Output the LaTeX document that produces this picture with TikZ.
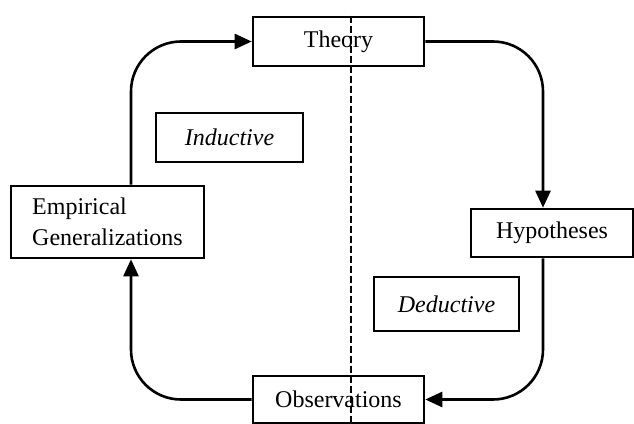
\documentclass[tikz,border=0pt]{standalone}
\usepackage{fontspec}
\setmainfont{Liberation Serif}
\usetikzlibrary{arrows.meta, positioning}

\begin{document}
\begin{tikzpicture}[
x=1pt, y=-1pt,
font=\fontsize{24}{31}\selectfont,
stage/.style={rectangle, draw, line width=2.6pt, minimum height=49pt, inner sep=0pt, align=center},
mode/.style={rectangle, draw, line width=2.6pt, inner sep=0pt, font=\fontsize{24}{31}\selectfont\itshape},
arrow/.style={line width=2.6pt, rounded corners=50pt, -{Triangle[length=17pt, width=15pt]}}
]
\useasboundingbox (0,0) rectangle (634,423);

\node[stage, minimum width=171pt] (theory) at (338.5,41.5) {Theory};
\node[stage, minimum width=193pt, minimum height=72pt, align=left] (emp) at (107.5,222) {Empirical\\Generalizations};
\node[stage, minimum width=162pt, minimum height=48pt] (hyp) at (552,233) {Hypotheses};
\node[stage, minimum width=171pt, minimum height=47pt] (obs) at (338.5,399.5) {Observations};
\node[mode, minimum width=147pt, minimum height=49pt] (ind) at (229.5,137.5) {Inductive};
\node[mode, minimum width=145pt, minimum height=54pt] (ded) at (446.5,304) {Deductive};

% columns of the loop and the divider
\coordinate (lft) at (131,0);
\coordinate (rgt) at (543,0);
\coordinate (mid) at (351,0);

\draw[arrow] (emp.north -| lft) |- (theory.west);
\draw[arrow] (theory.east) -| (hyp.north -| rgt);
\draw[arrow] (hyp.south -| rgt) |- (obs.east);
\draw[arrow] (obs.west) -| (emp.south -| lft);

\draw[line width=2pt, dash pattern=on 7pt off 3pt] (theory.north -| mid) -- (obs.south -| mid);

\end{tikzpicture}
\end{document}
